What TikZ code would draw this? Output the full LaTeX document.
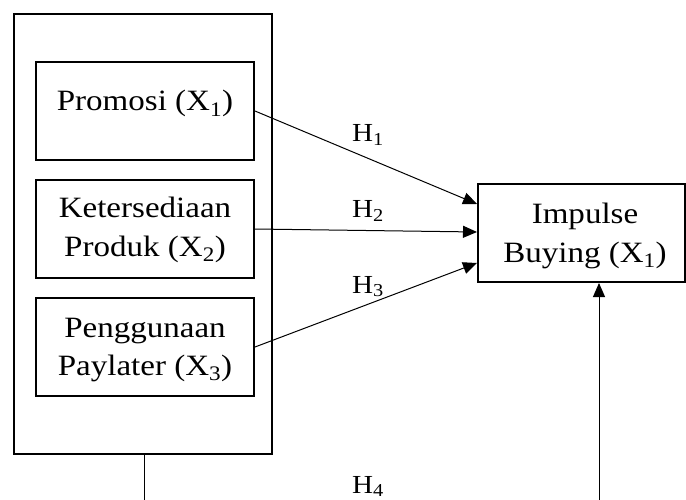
\documentclass[tikz,border=0pt]{standalone}
\usepackage{fontspec}
\setmainfont{Liberation Serif}[FakeStretch=1.12]
\usetikzlibrary{arrows.meta}
\begin{document}
\begin{tikzpicture}[x=1pt,y=-1pt,
  box/.style={draw,line width=2pt,inner sep=0pt},
  outerbox/.style={draw,line width=1.5pt,inner sep=0pt},
  txt/.style={anchor=base,inner sep=0pt,font=\fontsize{29.5}{38}\selectfont},
  hlab/.style={anchor=base,inner sep=0pt,font=\fontsize{26}{30}\selectfont},
  conn/.style={line width=1pt},
  arr/.style={line width=1pt,-{Triangle[length=14pt,width=12pt]}}]
\useasboundingbox (0,0) rectangle (686,500);
% outer box
\node[outerbox,minimum width=258pt,minimum height=440pt] (outer) at (143,234) {};
% inner boxes
\node[box,minimum width=218pt,minimum height=98pt] (b1) at (145,111) {};
\node[box,minimum width=218pt,minimum height=98pt] (b2) at (145,229) {};
\node[box,minimum width=218pt,minimum height=98pt] (b3) at (145,347) {};
\node[box,minimum width=207pt,minimum height=98pt] (iy) at (581.5,233) {};
% texts
\node[txt] (t1) at (145,111) {Promosi (X\textsubscript{1})};
\node[txt] (t2a) at (145,218) {Ketersediaan};
\node[txt] (t2b) at (145,256) {Produk (X\textsubscript{2})};
\node[txt] (t3a) at (145,337) {Penggunaan};
\node[txt] (t3b) at (145,375) {Paylater (X\textsubscript{3})};
\node[txt] (t4a) at (585,223) {Impulse};
\node[txt] (t4b) at (585,262) {Buying (X\textsubscript{1})};
% hypothesis labels
\node[hlab] (h1) at (368,142) {H\textsubscript{1}};
\node[hlab] (h2) at (368,218) {H\textsubscript{2}};
\node[hlab] (h3) at (368,293) {H\textsubscript{3}};
\node[hlab] (h4) at (368,493) {H\textsubscript{4}};
% connectors
\coordinate (iy1) at (477,204);
\coordinate (iy2) at (477,232);
\coordinate (iy3) at (477,263);
\draw[arr] (b1.east) -- (iy1);
\draw[arr] (b2.east) -- (iy2);
\draw[arr] (b3.east) -- (iy3);
\coordinate (c1) at (144,502);
\coordinate (c2) at (599,502);
\draw[conn] (outer.south -| c1) -- (c1);
\draw[arr] (c2) -- (c2 |- iy.south);
\end{tikzpicture}
\end{document}
